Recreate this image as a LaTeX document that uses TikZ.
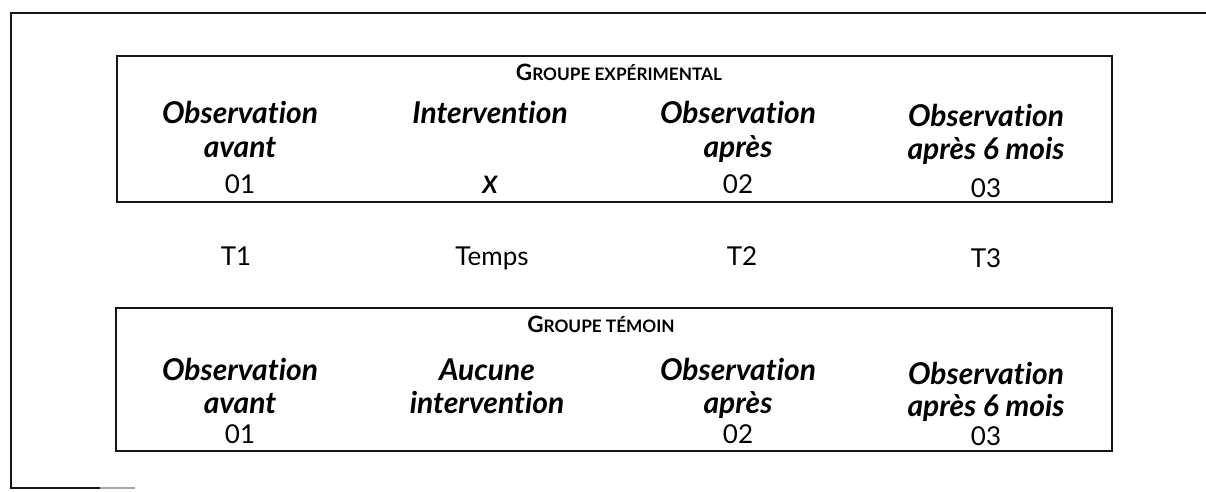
\documentclass[tikz,border=0pt]{standalone}
\usepackage{fontspec}
\setmainfont{Lato}[Ligatures={NoCommon,NoRare}]
\definecolor{trait}{HTML}{161616}
\definecolor{fondu}{HTML}{A8A8A8}
\tikzset{
  cadre/.style={trait,line width=1.5pt},
  titre/.style={anchor=base,inner sep=0pt,font=\bfseries},
  entete/.style={anchor=base,inner sep=0pt,font=\fontsize{30}{30}\selectfont\bfseries\itshape},
  valeur/.style={anchor=base,inner sep=0pt,font=\fontsize{26}{26}\selectfont},
}
\newcommand{\gpetit}[2]{{\fontsize{22.5}{22.5}\selectfont #1}{\fontsize{17.2}{17.2}\selectfont #2}}

\begin{document}
\begin{tikzpicture}[x=1pt,y=-1pt]
  \useasboundingbox (0,0) rectangle (1206,491);
  % --- cadre exterieur ---
  \draw[cadre,line cap=butt] (1206,13)--(11,13)--(11,488)--(100,488);
  \draw[fondu,line width=1.5pt] (100,488)--(135,488);
  % --- groupe experimental ---
  \draw[cadre] (117,56) rectangle (1112,202);
  \node[titre] (texp) at (619,80) {\gpetit{G}{ROUPE EXPÉRIMENTAL}};
  \node[entete] (e1a) at (240,123) {Observation};
  \node[entete] (e1b) at (240,157) {avant};
  \node[valeur] (e1c) at (240,193) {01};
  \node[entete] (e2a) at (490,123) {Intervention};
  \node[entete] (e2c) at (490,193) {\fontsize{24}{24}\selectfont X};
  \node[entete] (e3a) at (738,123) {Observation};
  \node[entete] (e3b) at (738,157) {après};
  \node[valeur] (e3c) at (738,193) {02};
  \node[entete] (e4a) at (986,126) {Observation};
  \node[entete] (e4b) at (986,159) {après 6 mois};
  \node[valeur] (e4c) at (986,197) {03};
  % --- temps ---
  \node[valeur] (t1) at (236,265) {T1};
  \node[valeur] (tps) at (492,265) {Temps};
  \node[valeur] (t2) at (742,265) {T2};
  \node[valeur] (t3) at (986,267) {T3};
  % --- groupe temoin ---
  \draw[cadre] (116,308) rectangle (1112,451);
  \node[titre] (ttem) at (601,332) {\gpetit{G}{ROUPE TÉMOIN}};
  \node[entete] (m1a) at (240,380) {Observation};
  \node[entete] (m1b) at (240,413) {avant};
  \node[valeur] (m1c) at (240,443) {01};
  \node[entete] (m2a) at (487,380) {Aucune};
  \node[entete] (m2b) at (487,413) {intervention};
  \node[entete] (m3a) at (738,380) {Observation};
  \node[entete] (m3b) at (738,413) {après};
  \node[valeur] (m3c) at (738,443) {02};
  \node[entete] (m4a) at (986,384) {Observation};
  \node[entete] (m4b) at (986,416) {après 6 mois};
  \node[valeur] (m4c) at (986,445) {03};
\end{tikzpicture}
\end{document}
